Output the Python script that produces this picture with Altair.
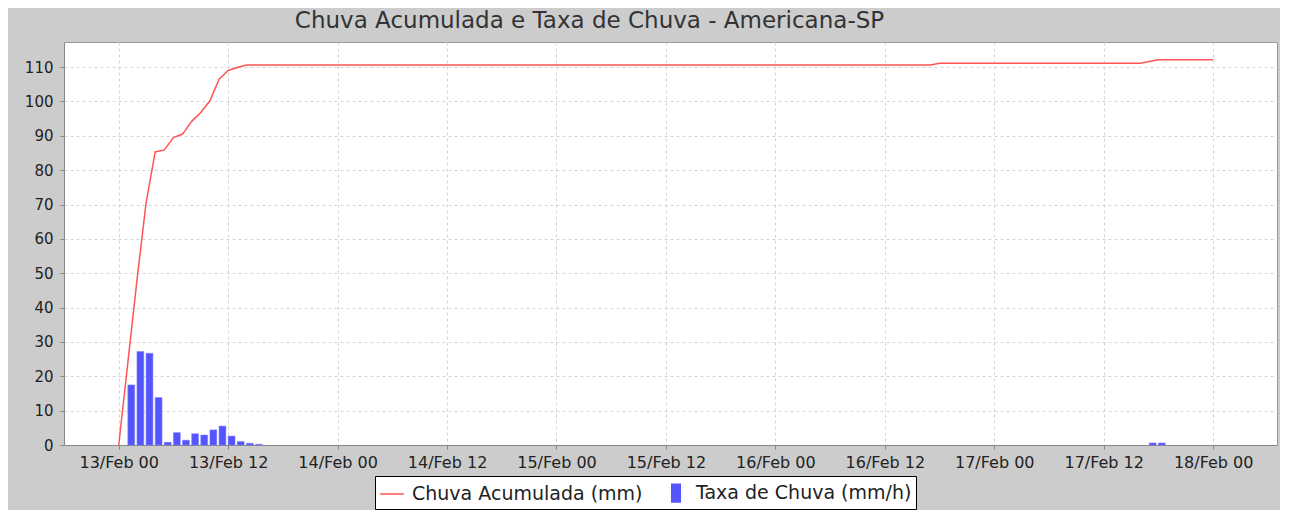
import altair as alt
import pandas as pd

# ---- data ----
TITLE = "Chuva Acumulada e Taxa de Chuva - Americana-SP"
SERIES_LINE = "Chuva Acumulada (mm)"
SERIES_BAR = "Taxa de Chuva (mm/h)"

start = "2020-02-13T00:00:00Z"          # 13/Feb 00

# accumulated rain (mm), hours after 13/Feb 00
line_hours = [0, 1, 2, 3, 4, 5, 6, 7, 8, 9, 10, 11, 12, 13, 14, 89, 90, 112, 113, 114, 120]
line_values = [0.0, 24.0, 48.0, 70.5, 85.3, 85.9, 89.5, 90.5, 94.2, 96.8, 100.2, 106.5,
               109.0, 109.9, 110.6, 110.6, 111.1, 111.1, 111.6, 112.1, 112.1]

# rain rate (mm/h), hours after 13/Feb 00
bar_hours = [1, 2, 3, 4, 5, 6, 7, 8, 9, 10, 11, 12, 13, 14, 15, 113, 114]
bar_values = [17.5, 27.2, 26.7, 13.8, 0.8, 3.6, 1.4, 3.3, 2.9, 4.4, 5.5, 2.6, 1.0, 0.5, 0.2, 0.6, 0.6]
bar_span_hours = 0.75

# axis ticks
x_tick_days = [13, 13, 14, 14, 15, 15, 16, 16, 17, 17, 18]
x_tick_hours = [0, 12, 0, 12, 0, 12, 0, 12, 0, 12, 0]
y_ticks = [0, 10, 20, 30, 40, 50, 60, 70, 80, 90, 100, 110]
y_max = 117.3

# ---- tables ----
t0 = pd.Timestamp(start)


def iso(h):
    return (t0 + pd.Timedelta(hours=h)).strftime("%Y-%m-%dT%H:%M:%SZ")


line_df = pd.DataFrame({
    "t": [iso(h) for h in line_hours],
    "v": line_values,
    "serie": SERIES_LINE,
})
bar_df = pd.DataFrame({
    "t": [iso(h) for h in bar_hours],
    "t2": [iso(h + bar_span_hours) for h in bar_hours],
    "v": bar_values,
    "serie": SERIES_BAR,
})

FONT = "DejaVu Sans"
x_vals = [alt.DateTime(year=2020, month=2, date=d, hours=h, utc=True)
          for d, h in zip(x_tick_days, x_tick_hours)]

x_scale = alt.Scale(
    type="utc",
    domain=[alt.DateTime(year=2020, month=2, date=12, hours=18, utc=True),
            alt.DateTime(year=2020, month=2, date=18, hours=7, utc=True)],
)
x_axis = alt.Axis(
    title=None, values=x_vals,
    labelExpr="utcFormat(datum.value, '%d/%b %H')",
    labelFont=FONT, labelFontSize=16, labelColor="#222",
    tickSize=4, tickColor="#888", domainColor="#888", labelPadding=5,
    grid=True, gridColor="#d4d4d4", gridDash=[3, 3],
    labelFlush=False,
)
y_scale = alt.Scale(domain=[0, y_max], nice=False)
y_axis = alt.Axis(
    title=None, values=y_ticks,
    labelFont=FONT, labelFontSize=15, labelColor="#222",
    tickSize=4, tickColor="#888", domainColor="#888", labelPadding=7,
    grid=True, gridColor="#d4d4d4", gridDash=[3, 3],
)

color_scale = alt.Scale(domain=[SERIES_LINE, SERIES_BAR], range=["#FF5555", "#5555FF"])
legend = alt.Legend(
    title=None, orient="none", direction="horizontal",
    legendX=311, legendY=434,
    fillColor="white", strokeColor="black", padding=4, cornerRadius=0,
    labelFont=FONT, labelFontSize=19, labelColor="#222", labelOffset=7,
    labelLimit=400, columnPadding=20,
    symbolType=alt.ExprRef(
        "datum.value == '" + SERIES_LINE + "' ? 'M-1,0H1' : 'M-0.36,-0.74H0.36V0.74H-0.36Z'"
    ),
    symbolSize=560, symbolStrokeWidth=1.5,
)

bars = alt.Chart(bar_df).mark_bar(stroke="#7777ff", strokeWidth=0.5).encode(
    x=alt.X("t:T", scale=x_scale, axis=x_axis),
    x2="t2:T",
    y=alt.Y("v:Q", scale=y_scale, axis=y_axis),
    y2=alt.datum(0),
    color=alt.Color("serie:N", scale=color_scale, legend=legend),
)

line = alt.Chart(line_df).mark_line(strokeWidth=1.5).encode(
    x=alt.X("t:T", scale=x_scale, axis=x_axis),
    y=alt.Y("v:Q", scale=y_scale, axis=y_axis),
    color=alt.Color("serie:N", scale=color_scale, legend=legend),
)

chart = alt.layer(line, bars).properties(
    width=1213, height=403,
    title=alt.TitleParams(
        TITLE, font=FONT, fontSize=23, fontWeight="normal", color="#333",
        anchor="middle", dx=-81, offset=9,
    ),
    autosize=alt.AutoSizeParams(type="none"),
    padding={"left": 56, "top": 34, "right": 3, "bottom": 65},
).configure(
    background="#CCCCCC",
).configure_view(
    fill="white", stroke="#999999", strokeWidth=1,
)

chart.save("out.html", embed_options={"renderer": "svg", "actions": False})
